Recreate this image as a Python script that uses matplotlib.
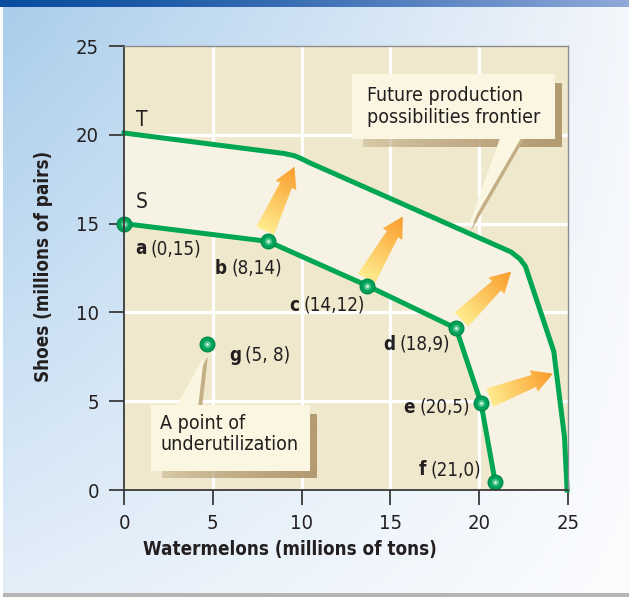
import numpy as np
import matplotlib
matplotlib.use("Agg")
import matplotlib.pyplot as plt
from matplotlib.patches import Polygon
from matplotlib.colors import LinearSegmentedColormap, to_rgb
from matplotlib import font_manager

# ---------------- fonts ----------------
names = {f.name for f in font_manager.fontManager.ttflist}
STRETCH = "normal"
if "Liberation Sans Narrow" in names:
    FAM = ["Liberation Sans Narrow", "DejaVu Sans"]
elif any(f.name == "DejaVu Sans" and str(f.stretch) in ("condensed", "semi-condensed")
         for f in font_manager.fontManager.ttflist):
    FAM = ["DejaVu Sans"]
    STRETCH = "condensed"
else:
    FAM = ["Roboto", "DejaVu Sans"]
plt.rcParams["font.family"] = FAM
plt.rcParams["font.stretch"] = STRETCH

# ---------------- data ----------------
x_ticks = [0, 5, 10, 15, 20, 25]
y_ticks = [0, 5, 10, 15, 20, 25]
x_label = "Watermelons (millions of tons)"
y_label = "Shoes (millions of pairs)"

# current frontier S (points a..f)
s_x = [0, 8.1, 13.7, 18.7, 20.1, 20.9]
s_y = [15, 14, 11.5, 9.1, 4.9, 0.45]
s_letters = ["a", "b", "c", "d", "e", "f"]
s_coords = ["(0,15)", "(8,14)", "(14,12)", "(18,9)", "(20,5)", "(21,0)"]

# point of underutilization g
g_x = [4.7]
g_y = [8.2]
g_letters = ["g"]
g_coords = ["(5, 8)"]

# future frontier T
t_x = [0, 9.0, 9.6, 10.0, 10.4, 21.8, 22.3, 22.6, 24.2, 24.8, 24.95]
t_y = [20.1, 18.95, 18.82, 18.65, 18.45, 13.4, 13.0, 12.6, 7.8, 3.0, 0]

# growth arrows (tail -> head)
arrow_tail_x = [7.95, 13.65, 19.0, 20.6]
arrow_tail_y = [14.6, 11.9, 9.6, 5.2]
arrow_head_x = [9.6, 15.7, 21.8, 24.15]
arrow_head_y = [18.2, 15.4, 12.3, 6.55]

callout_future = "Future production\npossibilities frontier"
callout_under = "A point of\nunderutilization"

# ---------------- style ----------------
GREEN = "#00a651"
TAN = "#f0e8cc"
LIGHT = "#f6f2e4"
W, H, DPI = 629, 597, 100

fig = plt.figure(figsize=(W / DPI, H / DPI), dpi=DPI)

# figure background gradient
bg = fig.add_axes([0, 0, 1, 1], zorder=-10)
bg.set_xlim(0, 1); bg.set_ylim(0, 1); bg.axis("off")
ny, nx = 60, 60
yy, xx = np.mgrid[0:1:ny * 1j, 0:1:nx * 1j]  # yy=0 bottom
c_tl = np.array(to_rgb("#a9cdeb")); c_tr = np.array(to_rgb("#f3f6fb"))
c_bl = np.array(to_rgb("#e3eef9")); c_br = np.array(to_rgb("#fbfcfe"))
top = c_tl[None, None, :] * (1 - xx[..., None]) + c_tr[None, None, :] * xx[..., None]
bot = c_bl[None, None, :] * (1 - xx[..., None]) + c_br[None, None, :] * xx[..., None]
img = bot * (1 - yy[..., None]) + top * yy[..., None]
bg.imshow(img, extent=[0, 1, 0, 1], origin="lower", aspect="auto", interpolation="bilinear")
# top bar
bx = np.linspace(0, 1, 200)
cb0 = np.array(to_rgb("#0a4d9f")); cb1 = np.array(to_rgb("#8fa9d9"))
barimg = (cb0[None, :] * (1 - bx[:, None] ** 1.3) + cb1[None, :] * bx[:, None] ** 1.3)[None, :, :]
bg.imshow(barimg, extent=[0, 1, 1 - 7 / H, 1], origin="lower", aspect="auto", interpolation="bilinear")
# bottom gray edge
bg.fill_between([0, 1], [0, 0], [4 / H, 4 / H], color="#b5b5b5", lw=0)
bg.fill_between([0, 3 / W], [0, 0], [1 - 7 / H, 1 - 7 / H], color="#ffffff", lw=0)

# main axes
ax = fig.add_axes([124 / W, 1 - 490 / H, (568 - 124) / W, (490 - 46) / H], zorder=1)
ax.set_facecolor(TAN)
ax.set_xlim(x_ticks[0], x_ticks[-1])
ax.set_ylim(y_ticks[0], y_ticks[-1])

# grid lines (white)
for v in x_ticks[1:-1]:
    ax.axvline(v, color="white", lw=2.4, zorder=0.5)
for v in y_ticks[1:-1]:
    ax.axhline(v, color="white", lw=2.4, zorder=0.5)

# light region between frontiers
poly_pts = list(zip(t_x, t_y)) + [(s_x[-1] + 0.05, 0)] + list(zip(s_x[::-1], s_y[::-1]))
ax.add_patch(Polygon(poly_pts, closed=True, facecolor=LIGHT, edgecolor="none", zorder=1))

# callout helper (coords in data units of the axes)
shadow_rgb = np.array(to_rgb("#b39b72"))

def callout(x0, y0, x1, y1, ptr, text, tx, ty):
    s = 0.42
    shp = Polygon([(x0 + 0.6, y0), (x1, y0), (x1, y1 - 0.5), (x1 + s, y1 - 0.5),
                   (x1 + s, y0 - s), (x0 + 0.6, y0 - s)],
                  closed=True, facecolor="none", edgecolor="none", zorder=2, clip_on=False)
    ax.add_patch(shp)
    gy, gx = np.mgrid[y0 - s:y1:40j, x0:x1 + s:120j]
    a = np.clip((gx - x0) / (x1 - x0), 0, 1) ** 0.6
    rgba = np.zeros(gx.shape + (4,))
    rgba[..., :3] = shadow_rgb
    rgba[..., 3] = 0.25 + 0.75 * a
    im = ax.imshow(rgba, extent=[x0, x1 + s, y0 - s, y1], origin="lower", aspect="auto",
                   zorder=2, interpolation="bilinear")
    im.set_clip_path(shp)
    im.set_clip_on(True)
    ax.add_patch(Polygon([(p[0] + 0.22, p[1]) for p in ptr], closed=True, facecolor="#c4ae86",
                         edgecolor="none", zorder=2, clip_on=False))
    ax.add_patch(Polygon(ptr, closed=True, facecolor="#faf6e1", edgecolor="none", zorder=2.1, clip_on=False))
    ax.add_patch(Polygon([(x0, y0), (x1, y0), (x1, y1), (x0, y1)], closed=True,
                         facecolor="#faf6e1", edgecolor="none", zorder=2.2, clip_on=False))
    ax.text(tx, ty, text, ha="left", va="center", fontsize=14, color="#231f20",
            linespacing=1.15, zorder=2.3)

callout(12.84, 19.76, 24.27, 23.42,
        [(21.2, 19.9), (22.4, 19.9), (19.3, 14.55)],
        callout_future, 13.68, 21.6)
callout(1.52, 1.07, 10.47, 4.79,
        [(2.87, 4.6), (4.17, 4.6), (4.5, 7.5)],
        callout_under, 2.03, 3.15)

# frontiers
ax.plot(t_x, t_y, color=GREEN, lw=3.6, solid_joinstyle="round", zorder=3, clip_on=False)
ax.plot(s_x, s_y, color=GREEN, lw=3.6, solid_joinstyle="round", zorder=3)

# gradient arrows
cmap = LinearSegmentedColormap.from_list("ar", ["#ffec8e", "#fdc45c", "#f99b2a"])

def grad_arrow(x0, y0, x1, y1, tw=1.1, nw=0.72, hw=1.28, hl=1.15):
    dx, dy = x1 - x0, y1 - y0
    L = np.hypot(dx, dy)
    ux, uy = dx / L, dy / L
    px, py = -uy, ux
    nx0, ny0 = x1 - ux * hl, y1 - uy * hl
    pts = [(x0 + px * tw / 2, y0 + py * tw / 2),
           (nx0 + px * nw / 2, ny0 + py * nw / 2),
           (nx0 + px * hw / 2, ny0 + py * hw / 2),
           (x1, y1),
           (nx0 - px * hw / 2, ny0 - py * hw / 2),
           (nx0 - px * nw / 2, ny0 - py * nw / 2),
           (x0 - px * tw / 2, y0 - py * tw / 2)]
    patch = Polygon(pts, closed=True, facecolor="none", edgecolor="none", zorder=2.5)
    ax.add_patch(patch)
    arr = np.array(pts)
    xa, xb = arr[:, 0].min(), arr[:, 0].max()
    ya, yb = arr[:, 1].min(), arr[:, 1].max()
    gy, gx = np.mgrid[ya:yb:80j, xa:xb:80j]
    t = np.clip(((gx - x0) * ux + (gy - y0) * uy) / L, 0, 1)
    im = ax.imshow(t, extent=[xa, xb, ya, yb], origin="lower", cmap=cmap, vmin=0, vmax=1,
                   aspect="auto", zorder=2.5, interpolation="bilinear")
    im.set_clip_path(patch)

for a0, b0, a1, b1 in zip(arrow_tail_x, arrow_tail_y, arrow_head_x, arrow_head_y):
    grad_arrow(a0, b0, a1, b1)

# markers
def dots(xs, ys):
    ax.plot(xs, ys, "o", ms=10.5, mfc="#00a35a", mec="#008a48", mew=1.0, zorder=4, clip_on=False)
    ax.plot(xs, ys, "o", ms=5, mfc="#5cc992", mec="none", alpha=0.9, zorder=4.1, clip_on=False)
    ax.plot(xs, ys, "o", ms=2, mfc="#d9f5e6", mec="none", zorder=4.2, clip_on=False)

dots(s_x, s_y)
dots(g_x, g_y)

# axes restore
ax.set_xlim(x_ticks[0], x_ticks[-1])
ax.set_ylim(y_ticks[0], y_ticks[-1])
ax.set_aspect("auto")

# frontier names
ax.text(0.65, 20.85, "T", fontsize=15, ha="left", va="center", color="#231f20", zorder=5)
ax.text(0.65, 16.2, "S", fontsize=15, ha="left", va="center", color="#231f20", zorder=5)

# point labels: bold letter + regular coordinates
label_pos = [(0.62, 13.57), (5.12, 12.5), (9.29, 10.4), (14.58, 8.2), (15.75, 4.65), (16.61, 1.15)]
g_label_pos = [(5.91, 7.6)]
fig.canvas.draw()
renderer = fig.canvas.get_renderer()

def point_label(pos, letter, coords):
    t = ax.text(pos[0], pos[1], letter, fontsize=13.5, fontweight="bold", ha="left", va="center",
                color="#231f20", zorder=5)
    bb = t.get_window_extent(renderer)
    ax.annotate(coords, xy=(pos[0], pos[1]), xycoords="data",
                xytext=(bb.width * 72 / DPI + 3.2, 0), textcoords="offset points",
                fontsize=13.5, ha="left", va="center", color="#231f20", zorder=5)

for p, l, c in zip(label_pos, s_letters, s_coords):
    point_label(p, l, c)
for p, l, c in zip(g_label_pos, g_letters, g_coords):
    point_label(p, l, c)

# ticks & spines
ax.set_xticks(x_ticks)
ax.set_yticks(y_ticks)
ax.set_xticklabels([str(v) for v in x_ticks])
ax.set_yticklabels([str(v) for v in y_ticks])
ax.tick_params(axis="both", direction="out", length=11, width=1.3, color="#3a3a3a",
               labelsize=14.5, labelcolor="#231f20")
ax.tick_params(axis="y", pad=7)
ax.tick_params(axis="x", pad=6)
for side in ["left", "bottom"]:
    ax.spines[side].set_color("#3a3a3a")
    ax.spines[side].set_linewidth(1.3)
for side in ["top", "right"]:
    ax.spines[side].set_color("#8c8c8c")
    ax.spines[side].set_linewidth(1.0)
for sp in ax.spines.values():
    sp.set_zorder(6)

fig.text(289.5 / W, 1 - 549 / H, x_label, fontsize=13.5, fontweight="bold", ha="center",
         va="center", color="#231f20")
fig.text(44 / W, 1 - 266 / H, y_label, fontsize=13.5, fontweight="bold", ha="center",
         va="center", rotation=90, color="#231f20")

fig.savefig("out.png", dpi=DPI)
